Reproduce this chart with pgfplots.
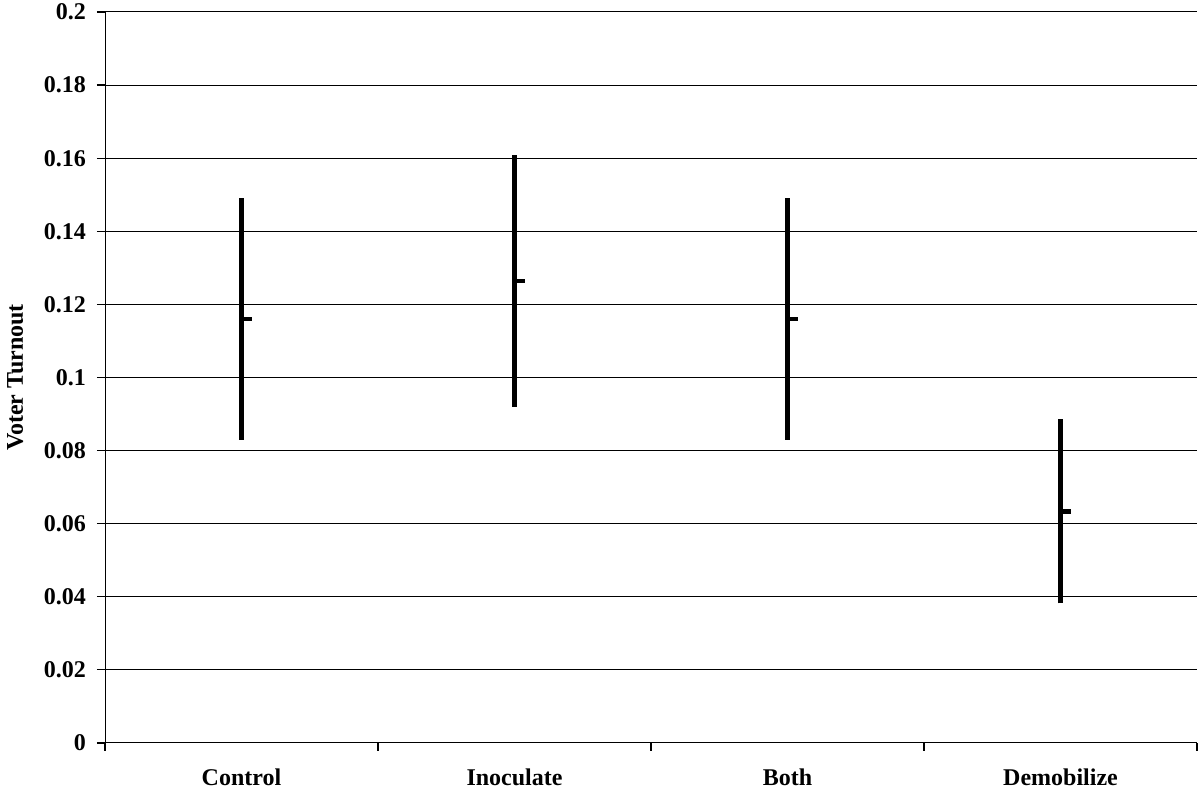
\documentclass[border=0pt]{standalone}
\usepackage{fontspec}
\setmainfont{Liberation Serif}
\usepackage{pgfplots}
\pgfplotsset{compat=1.18}
\begin{document}
\begin{tikzpicture}
\begin{axis}[
  name=ax,
  scale only axis,
  width=546pt, height=365.5pt,
  xmin=0, xmax=4, ymin=0, ymax=0.2,
  axis x line*=bottom, axis y line*=left,
  axis line style={black, line width=0.5pt, -},
  ytick={0,0.02,...,0.2},
  ymajorgrids,
  grid style={black, line width=0.5pt},
  y tick label style={/pgf/number format/fixed, /pgf/number format/precision=2, /pgf/number format/assume math mode=true, font=\fontsize{12}{14}\selectfont\bfseries, xshift=-2pt},
  tick style={black, line width=0.6pt},
  y tick style={draw=black, line width=0.6pt},
  major tick length=4pt,
  tick align=outside,
  xtick={0,1,2,3,4},
  xticklabels={},
  extra x ticks={0.5,1.5,2.5,3.5},
  extra x tick labels={Control,Inoculate,Both,Demobilize},
  extra x tick style={major tick length=0pt, xmajorgrids=false, tick label style={font=\fontsize{12}{14}\selectfont\bfseries, yshift=-9.5pt}},
  ylabel={Voter Turnout},
  ylabel style={font=\fontsize{12}{14}\selectfont\bfseries, yshift=3.5pt},
  clip=false,
  unbounded coords=jump,
]
% high-low lines
\addplot[black, line width=2.1pt, line cap=butt] coordinates {
 (0.5,0.0829) (0.5,0.149) (nan,nan)
 (1.5,0.092) (1.5,0.1609) (nan,nan)
 (2.5,0.0829) (2.5,0.149) (nan,nan)
 (3.5,0.0382) (3.5,0.0886)
};
% close ticks
\addplot[black, line width=2.2pt, line cap=butt] coordinates {
 (0.5,0.116) (0.54,0.116) (nan,nan)
 (1.5,0.1264) (1.54,0.1264) (nan,nan)
 (2.5,0.116) (2.54,0.116) (nan,nan)
 (3.5,0.0633) (3.54,0.0633)
};
\end{axis}
\pgfresetboundingbox
\path ([xshift=-52.5pt,yshift=-27pt]ax.south west) rectangle ([xshift=1pt,yshift=6pt]ax.north east);
\end{tikzpicture}
\end{document}
